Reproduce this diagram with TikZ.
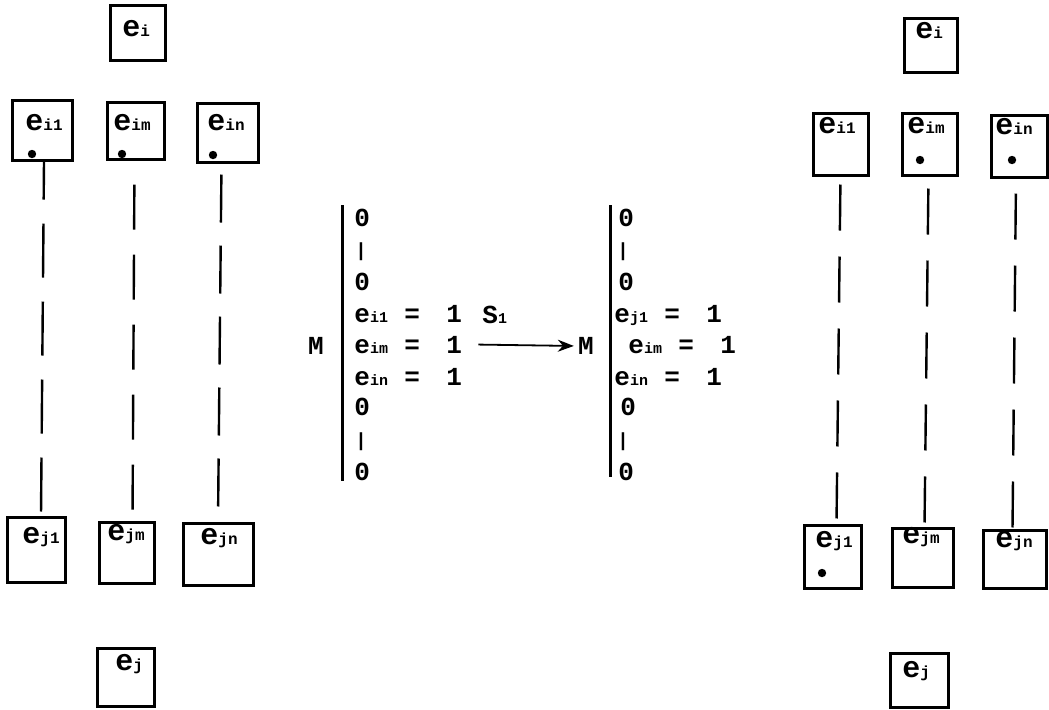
\documentclass[tikz,border=0pt]{standalone}
\usepackage{fontspec}
\setmonofont{Liberation Mono}
\usetikzlibrary{arrows.meta,calc,fit}
\newcommand\sbx[1]{{\fontsize{8}{8}\selectfont #1}}
\newcommand\lsb[1]{{\fontsize{7.5}{7.5}\selectfont #1}}
\newcommand\vtick{\raisebox{0.8pt}{\fontsize{9.5}{9.5}\selectfont|}}
\tikzset{
  ebox/.style={draw, line width=1.5pt, inner sep=0pt},
  etxt/.style={anchor=base west, inner sep=0pt, font=\ttfamily\bfseries\fontsize{15}{15}\selectfont},
  edot/.style={circle, fill, inner sep=0pt, minimum size=4.2pt},
  elink/.style={line width=1.2pt},
  rowtxt/.style={anchor=base west, inner sep=0pt, font=\ttfamily\bfseries\fontsize{13}{13}\selectfont},
  mlet/.style={inner sep=0pt, font=\ttfamily\bfseries\fontsize{13}{13}\selectfont},
  vbar/.style={line width=1.5pt},
  arr/.style={line width=0.9pt, -{Stealth[length=8pt,width=6pt]}, shorten >=2pt},
}
\newcommand\eq[2]{\makebox[25pt][l]{#1}\makebox[21pt][l]{=}#2}
\begin{document}
\begin{tikzpicture}[x=0.5pt,y=-0.5pt]
\useasboundingbox (0,0) rectangle (1049,709);

% ---------- left group ----------
\node[ebox, fit={(110,5)(165,60)}] (Li) {};
\node[etxt] (Lit) at (122,36) {e\sbx{i}};
\node[ebox, fit={(12,100)(72,160)}] (Li1) {};
\node[etxt] (Li1t) at (25,130) {e\sbx{i1}};
\node[edot] (Li1d) at (32,154) {};
\node[ebox, fit={(107,102)(164,159)}] (Lim) {};
\node[etxt] (Limt) at (113,130) {e\sbx{im}};
\node[edot] (Limd) at (122,154) {};
\node[ebox, fit={(197,103)(258,162)}] (Lin) {};
\node[etxt] (Lint) at (207,130) {e\sbx{in}};
\node[edot] (Lind) at (213,155) {};

\node[ebox, fit={(7,517)(65,582)}] (Lj1) {};
\node[etxt] (Lj1t) at (22,543) {e\sbx{j1}};
\node[ebox, fit={(99,522)(154,583)}] (Ljm) {};
\node[etxt] (Ljmt) at (107,540) {e\sbx{jm}};
\node[ebox, fit={(183,523)(253,585)}] (Ljn) {};
\node[etxt] (Ljnt) at (200,544) {e\sbx{jn}};
\node[ebox, fit={(97,648)(154,706)}] (Lj) {};
\node[etxt] (Ljt) at (115,670) {e\sbx{j}};

\draw[elink, dash pattern=on 27pt off 12pt, dash phase=8pt]
  ([xshift=1pt]Li1.south) -- ([xshift=2.5pt]Lj1.north);
\draw[elink, dash pattern=on 22.5pt off 12.5pt, dash phase=23pt]
  ([xshift=-0.5pt]Lim.south) -- ([xshift=3pt]Ljm.north);
\draw[elink, dash pattern=on 24pt off 11.5pt, dash phase=30pt]
  ([xshift=-3pt]Lin.south) -- ([xshift=0pt]Ljn.north);

% ---------- middle ----------
\coordinate (lbt) at (342,205);
\coordinate (lbb) at (342,481);
\draw[vbar] (lbt) -- (lbb);
\node[mlet] (ml) at (316,346) {M};
\node[rowtxt] (l1) at (354,226) {0};
\node[rowtxt] (l2) at (355,258) {\vtick};
\node[rowtxt] (l3) at (354,290) {0};
\node[rowtxt] (l4) at (354,322) {\eq{e\lsb{i1}}{1}};
\node[rowtxt] (l5) at (354,353) {\eq{e\lsb{im}}{1}};
\node[rowtxt] (l6) at (354,385) {\eq{e\lsb{in}}{1}};
\node[rowtxt] (l7) at (354,415) {0};
\node[rowtxt] (l8) at (355,448) {\vtick};
\node[rowtxt] (l9) at (354,480) {0};
\node[rowtxt] (s1) at (482,323) {S\lsb{1}};

\node[mlet] (mr) at (586,346) {M};
\draw[arr] ([xshift=8pt]l5.east) -- (mr.west);

\coordinate (rbt) at (610,205);
\coordinate (rbb) at (610,477);
\draw[vbar] (rbt) -- (rbb);
\node[rowtxt] (r1) at (618,226) {0};
\node[rowtxt] (r2) at (617,258) {\vtick};
\node[rowtxt] (r3) at (618,290) {0};
\node[rowtxt] (r4) at (614,322) {\eq{e\lsb{j1}}{1}};
\node[rowtxt] (r5) at (628,353) {\eq{e\lsb{im}}{1}};
\node[rowtxt] (r6) at (614,385) {\eq{e\lsb{in}}{1}};
\node[rowtxt] (r7) at (620,415) {0};
\node[rowtxt] (r8) at (617,448) {\vtick};
\node[rowtxt] (r9) at (618,480) {0};

% ---------- right group ----------
\node[ebox, fit={(904,18)(957,72)}] (Ri) {};
\node[etxt] (Rit) at (915,38) {e\sbx{i}};
\node[ebox, fit={(813,113)(868,175)}] (Ri1) {};
\node[etxt] (Ri1t) at (818,133) {e\sbx{i1}};
\node[ebox, fit={(902,113)(957,175)}] (Rim) {};
\node[etxt] (Rimt) at (907,133) {e\sbx{im}};
\node[edot] (Rimd) at (920,160) {};
\node[ebox, fit={(991,115)(1047,177)}] (Rin) {};
\node[etxt] (Rint) at (995,134) {e\sbx{in}};
\node[edot] (Rind) at (1012,160) {};

\node[ebox, fit={(804,525)(861,588)}] (Rj1) {};
\node[etxt] (Rj1t) at (815,547) {e\sbx{j1}};
\node[edot] (Rj1d) at (822,573) {};
\node[ebox, fit={(892,528)(953,587)}] (Rjm) {};
\node[etxt] (Rjmt) at (902,543) {e\sbx{jm}};
\node[ebox, fit={(983,530)(1046,588)}] (Rjn) {};
\node[etxt] (Rjnt) at (995,547) {e\sbx{jn}};
\node[ebox, fit={(890,653)(948,707)}] (Rj) {};
\node[etxt] (Rjt) at (902,677) {e\sbx{j}};

\draw[elink, dash pattern=on 23pt off 13pt, dash phase=32pt]
  (Ri1.south) -- ([xshift=2pt]Rj1.north);
\draw[elink, dash pattern=on 23pt off 13pt, dash phase=30pt]
  ([xshift=-0.5pt]Rim.south) -- ([xshift=1pt]Rjm.north);
\draw[elink, dash pattern=on 23pt off 13pt, dash phase=28.5pt]
  ([xshift=-1.5pt]Rin.south) -- ([xshift=-1pt]Rjn.north);
\end{tikzpicture}
\end{document}
